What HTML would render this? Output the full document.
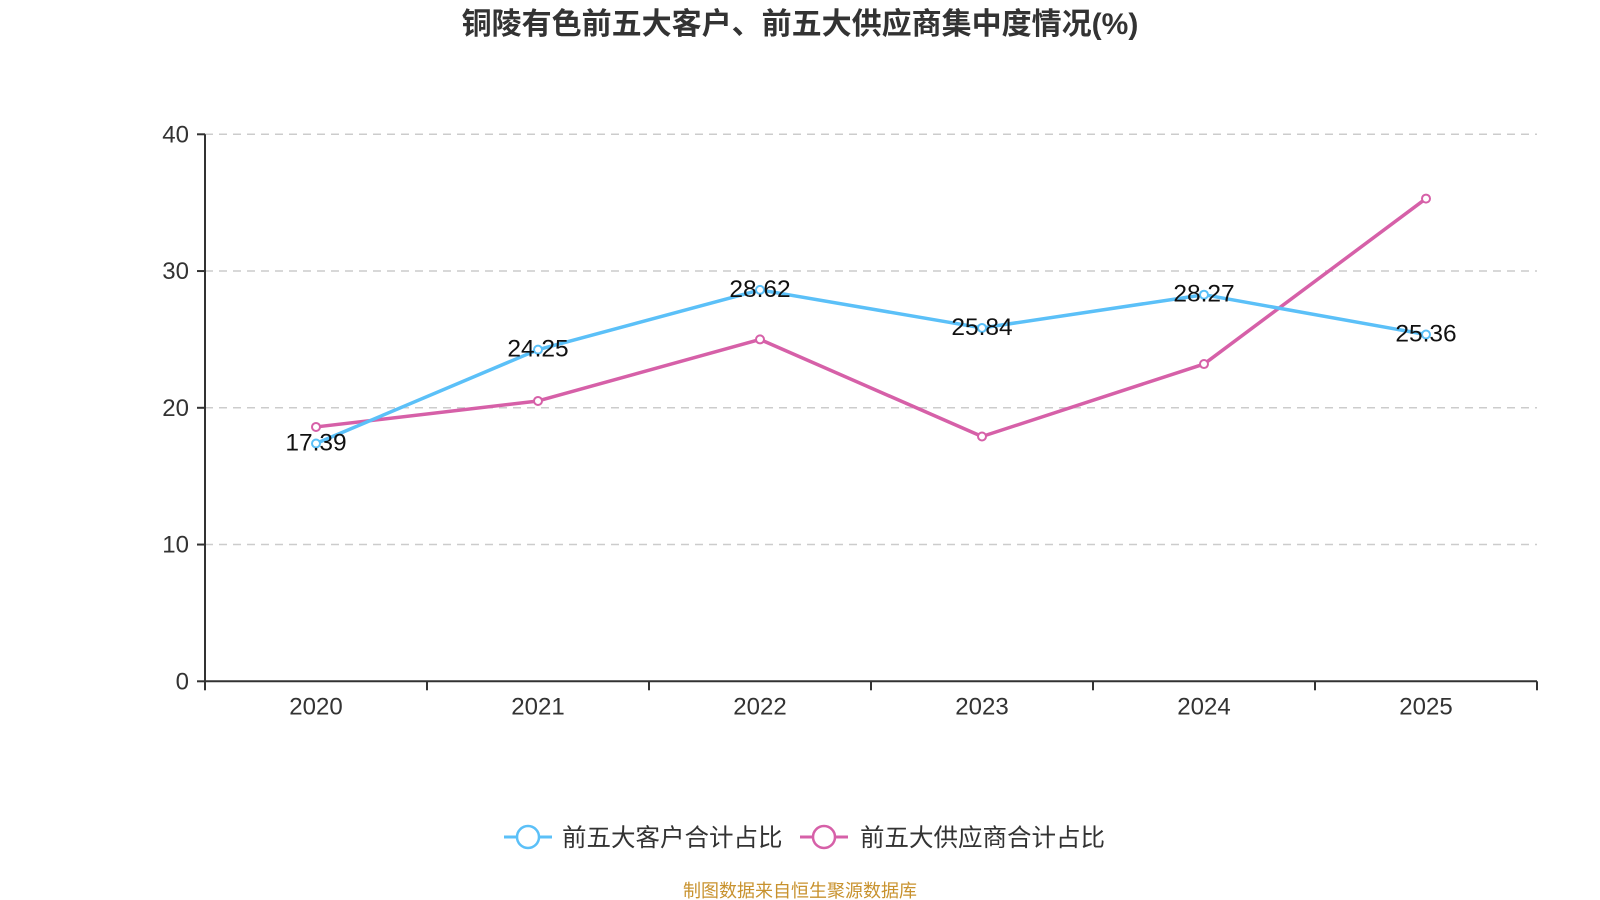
<!DOCTYPE html>
<html><head><meta charset="utf-8"><style>
body{margin:0;background:#fff;}
svg{display:block;font-family:"Liberation Sans","Noto Sans CJK SC",sans-serif;}
</style></head><body>
<svg id="chart" width="1600" height="900" viewBox="0 0 1600 900">
<text x="800" y="34" text-anchor="middle" font-size="30" font-weight="bold" fill="#333">铜陵有色前五大客户、前五大供应商集中度情况(%)</text>
<g id="grid"></g>
<g id="series"></g>
<g>
<g>
<line x1="504" y1="837" x2="552" y2="837" stroke="#5bc0f8" stroke-width="3"/>
<circle cx="528" cy="837" r="11" fill="#fff" stroke="#5bc0f8" stroke-width="2.5"/>
<text x="562" y="846" font-size="24.5" fill="#333">前五大客户合计占比</text></g>
<g>
<line x1="800" y1="837" x2="848" y2="837" stroke="#d660a8" stroke-width="3"/>
<circle cx="824" cy="837" r="11" fill="#fff" stroke="#d660a8" stroke-width="2.5"/>
<text x="860" y="846" font-size="24.5" fill="#333">前五大供应商合计占比</text></g>
</g>
<text x="800" y="897" text-anchor="middle" font-size="18" fill="#c8922e">制图数据来自恒生聚源数据库</text>
</svg>
<script>
const categories = ["2020","2021","2022","2023","2024","2025"];
const customerValues = [17.39,24.25,28.62,25.84,28.27,25.36];
const supplierValues = [18.6,20.5,25.0,17.9,23.2,35.3];
const yTicks = [0,10,20,30,40];
const NS="http://www.w3.org/2000/svg";
const L=205,R=1537,T=134.3,B=681.3,YMAX=40;
const band=(R-L)/categories.length;
const xs=i=>L+band*(i+0.5);
const ys=v=>B-(v/YMAX)*(B-T);
function mk(tag,attrs,parent,txt){const e=document.createElementNS(NS,tag);for(const k in attrs)e.setAttribute(k,attrs[k]);if(txt!==undefined)e.textContent=txt;parent.appendChild(e);return e;}
const g=document.getElementById('grid'), s=document.getElementById('series');
yTicks.forEach(t=>{const y=ys(t);
 if(t>0){const gl=mk('line',{x1:L,x2:R,y1:y,y2:y,stroke:'#ccc','stroke-width':1.5,'stroke-dasharray':'8,6'},g);
 
 }
 mk('line',{x1:L-8,x2:L,y1:y,y2:y,stroke:'#333','stroke-width':2},g);
 const tl=mk('text',{x:L-16,y:y+8,'text-anchor':'end','font-size':24,fill:'#333'},g,String(t));
 
 
});
const ya=mk('line',{x1:L,x2:L,y1:T,y2:B,stroke:'#333','stroke-width':2},g);


const xa=mk('line',{x1:L,x2:R,y1:B,y2:B,stroke:'#333','stroke-width':2},g);


for(let i=0;i<=categories.length;i++){const x=L+band*i;mk('line',{x1:x,x2:x,y1:B,y2:B+9,stroke:'#333','stroke-width':2},g);}
categories.forEach((c,i)=>{const t=mk('text',{x:xs(i),y:B+33,'text-anchor':'middle','font-size':24,fill:'#333'},g,c);
 
 });
function drawSeries(vals,color,name,labels){
 const p=mk('polyline',{points:vals.map((v,i)=>xs(i)+','+ys(v)).join(' '),fill:'none',stroke:color,'stroke-width':3.5,'stroke-linejoin':'round'},s);
 
 
 vals.forEach((v,i)=>{const c=mk('circle',{cx:xs(i),cy:ys(v),r:4,fill:'#fff',stroke:color,'stroke-width':2},s);
  
  
  if(labels){const t=mk('text',{x:xs(i),y:ys(v)+7,'text-anchor':'middle','font-size':24.5,fill:'#111'},s,v.toFixed(2));
   
   }
 });
}
drawSeries(supplierValues,'#d660a8','suppliers',false);
drawSeries(customerValues,'#5bc0f8','customers',true);
</script>
</body></html>
